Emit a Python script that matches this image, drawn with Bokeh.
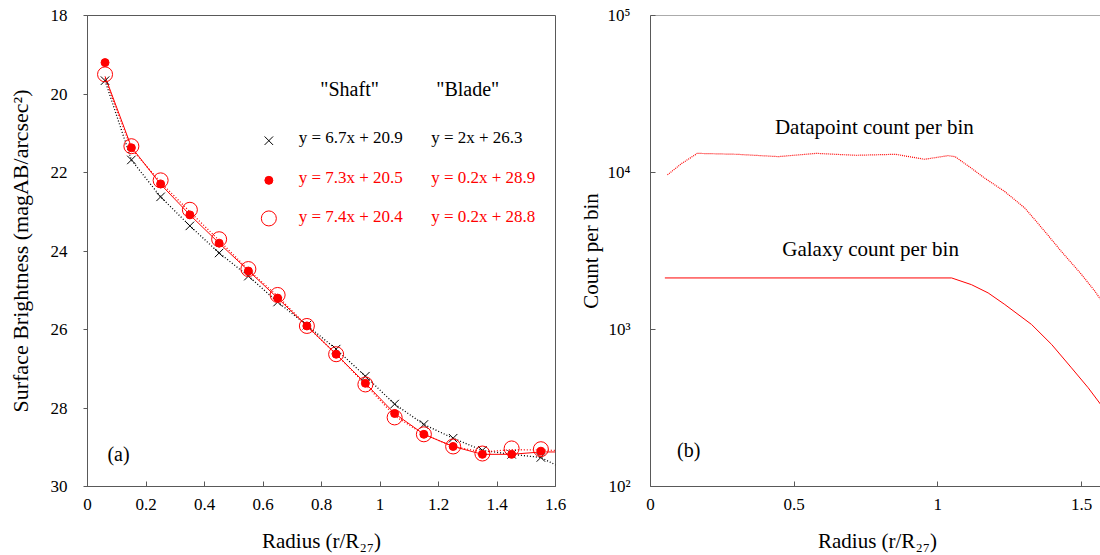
from bokeh.plotting import figure
from bokeh.models import Range1d, FixedTicker, NumeralTickFormatter, Label, Span
from bokeh.layouts import row
from bokeh.embed import file_html
from bokeh.resources import INLINE

FONT = "Liberation Serif"
RED = "#ff0000"
AXC = "#595959"

# ---------------- data: panel (a) ----------------
radius = [0.06, 0.15, 0.25, 0.35, 0.45, 0.55, 0.65, 0.75, 0.85, 0.95, 1.05, 1.15, 1.25, 1.35, 1.45, 1.55]
sb_cross = [19.66, 21.68, 22.62, 23.36, 24.05, 24.64, 25.30, 25.89, 26.50, 27.19, 27.90, 28.42, 28.77, 29.08, 29.18, 29.26]
sb_dot = [19.20, 21.37, 22.29, 23.08, 23.80, 24.51, 25.20, 25.91, 26.63, 27.37, 28.14, 28.67, 28.98, 29.18, 29.18, 29.10]
sb_circle = [19.50, 21.33, 22.20, 22.95, 23.70, 24.46, 25.12, 25.91, 26.63, 27.40, 28.24, 28.67, 28.98, 29.16, 29.03, 29.05]

line_r = [0.06, 0.15, 0.25, 0.35, 0.45, 0.55, 0.65, 0.75, 0.85, 0.95, 1.05, 1.15, 1.25, 1.35, 1.45, 1.55, 1.6]
line_black = [19.66, 21.68, 22.62, 23.36, 24.05, 24.64, 25.30, 25.89, 26.50, 27.19, 27.90, 28.42, 28.77, 29.08, 29.18, 29.26, 29.45]
line_red_solid = [19.55, 21.35, 22.30, 23.08, 23.80, 24.50, 25.20, 25.91, 26.63, 27.37, 28.14, 28.67, 28.98, 29.18, 29.18, 29.12, 29.12]
line_red_dotted = [19.60, 21.40, 22.25, 23.00, 23.73, 24.48, 25.15, 25.91, 26.63, 27.40, 28.20, 28.67, 28.98, 29.12, 29.06, 29.07, 29.08]

x_ticks_a = [0, 0.2, 0.4, 0.6, 0.8, 1, 1.2, 1.4, 1.6]
y_ticks_a = [18, 20, 22, 24, 26, 28, 30]

headers = ['"Shaft"', '"Blade"']
shaft_eqs = ["y = 6.7x + 20.9", "y = 7.3x + 20.5", "y = 7.4x + 20.4"]
blade_eqs = ["y = 2x + 26.3", "y = 0.2x + 28.9", "y = 0.2x + 28.8"]
eq_colors = ["black", RED, RED]

# ---------------- data: panel (b) ----------------
dp_r = [0.059, 0.108, 0.163, 0.30, 0.445, 0.577, 0.715, 0.852, 0.954, 1.035, 1.06, 1.117, 1.164, 1.233, 1.303, 1.372, 1.43, 1.50, 1.547, 1.579]
dp_count = [9660, 11400, 13240, 13060, 12620, 13240, 12870, 13060, 12140, 12800, 12620, 10640, 9180, 7560, 5930, 4220, 3140, 2240, 1750, 1440]

gal_r = [0.05, 1.048, 1.117, 1.175, 1.233, 1.326, 1.396, 1.465, 1.523, 1.579]
gal_count = [2130, 2130, 1930, 1710, 1443, 1077, 803, 570, 426, 311]

x_ticks_b = [0, 0.5, 1, 1.5]
y_ticks_b = [100, 1000, 10000, 100000]
y_labels_b = ["10²", "10³", "10⁴", "10⁵"]


def style_axes(p):
    for ax in p.axis:
        ax.axis_line_color = AXC
        ax.axis_line_width = 1
        ax.major_tick_line_color = AXC
        ax.minor_tick_line_color = None
        ax.major_label_text_font = FONT
        ax.major_label_text_font_size = "17px"
        ax.major_label_text_color = "black"
        ax.axis_label_text_font = FONT
        ax.axis_label_text_font_size = "21px"
        ax.axis_label_text_font_style = "normal"
        ax.axis_label_text_color = "black"
    p.grid.visible = False


# ---------------- panel (a) ----------------
p1 = figure(frame_width=468, frame_height=471, min_border_left=87, min_border_right=20,
            min_border_top=15, min_border_bottom=69,
            x_range=Range1d(0, 1.6), y_range=Range1d(30, 18),
            output_backend="svg", toolbar_location=None)
style_axes(p1)
p1.outline_line_color = AXC
p1.outline_line_width = 1
p1.xaxis.ticker = FixedTicker(ticks=x_ticks_a)
p1.xaxis.formatter = NumeralTickFormatter(format="0.[0]")
p1.yaxis.ticker = FixedTicker(ticks=y_ticks_a)
p1.yaxis.formatter = NumeralTickFormatter(format="0")
p1.xaxis.major_tick_in = 5
p1.xaxis.major_tick_out = 0
p1.yaxis.major_tick_in = 0
p1.yaxis.major_tick_out = 4
p1.xaxis.major_label_standoff = 12
p1.yaxis.major_label_standoff = 16
p1.xaxis.axis_label = "Radius (r/R₂₇)"
p1.yaxis.axis_label = "Surface Brightness (magAB/arcsec²)"
p1.yaxis.axis_label_text_font_size = "22px"
p1.xaxis.axis_label_standoff = 16
p1.yaxis.axis_label_standoff = 15

p1.line(line_r, line_black, line_color="black", line_width=1.3, line_dash="1 2")
p1.line(line_r, line_red_solid, line_color=RED, line_width=1)
p1.line(line_r, line_red_dotted, line_color=RED, line_width=1.3, line_dash="1 2")
p1.scatter(radius, sb_cross, marker="x", size=12, line_color="black", line_width=1)
p1.scatter(radius, sb_dot, marker="circle", size=8, fill_color=RED, line_color=RED)
p1.scatter(radius, sb_circle, marker="circle", size=15, fill_color=None, line_color=RED, line_width=1)

# legend-like table
hdr_x = [0.896, 1.30]
for hx, t in zip(hdr_x, headers):
    p1.add_layout(Label(x=hx, y=19.86, text=t, text_font=FONT, text_font_size="20px",
                        text_align="center", text_baseline="middle", text_color="black"))
row_y = [21.12, 22.12, 23.12]
for ry, s, b, c in zip(row_y, shaft_eqs, blade_eqs, eq_colors):
    p1.add_layout(Label(x=0.722, y=ry, text=s, text_font=FONT, text_font_size="17px",
                        text_align="left", text_baseline="middle", text_color=c))
    p1.add_layout(Label(x=1.175, y=ry, text=b, text_font=FONT, text_font_size="17px",
                        text_align="left", text_baseline="middle", text_color=c))
leg_x = 0.62
p1.scatter([leg_x], [row_y[0] + 0.07], marker="x", size=12, line_color="black", line_width=1)
p1.scatter([leg_x], [row_y[1] + 0.08], marker="circle", size=8, fill_color=RED, line_color=RED)
p1.scatter([leg_x], [row_y[2] + 0.05], marker="circle", size=15, fill_color=None, line_color=RED, line_width=1)

p1.add_layout(Label(x=0.106, y=29.16, text="(a)", text_font=FONT, text_font_size="20px",
                    text_align="center", text_baseline="middle", text_color="black"))

# ---------------- panel (b) ----------------
p2 = figure(frame_width=454, frame_height=471, min_border_left=71, min_border_right=0,
            min_border_top=15, min_border_bottom=69,
            x_range=Range1d(0, 1.58), y_range=Range1d(100, 100000), y_axis_type="log",
            output_backend="svg", toolbar_location=None)
style_axes(p2)
p2.outline_line_color = None
p2.add_layout(Span(location=100000, dimension="width", line_color=AXC, line_width=1))
p2.xaxis.ticker = FixedTicker(ticks=x_ticks_b)
p2.xaxis.formatter = NumeralTickFormatter(format="0.[0]")
p2.yaxis.ticker = FixedTicker(ticks=y_ticks_b)
p2.yaxis.major_label_overrides = {t: l for t, l in zip(y_ticks_b, y_labels_b)}
p2.xaxis.major_tick_in = 5
p2.xaxis.major_tick_out = 0
p2.yaxis.major_tick_in = 5
p2.yaxis.major_tick_out = 0
p2.xaxis.major_label_standoff = 12
p2.yaxis.major_label_standoff = 20
p2.xaxis.axis_label = "Radius (r/R₂₇)"
p2.yaxis.axis_label = "Count per bin"
p2.xaxis.axis_label_standoff = 16
p2.yaxis.axis_label_standoff = 2

p2.line(dp_r, dp_count, line_color=RED, line_width=1.2, line_dash="1 1")
p2.line(gal_r, gal_count, line_color=RED, line_width=1)

p2.add_layout(Label(x=0.779, y=19600, text="Datapoint count per bin", text_font=FONT,
                    text_font_size="21px", text_align="center", text_baseline="middle", text_color="black"))
p2.add_layout(Label(x=0.766, y=3240, text="Galaxy count per bin", text_font=FONT,
                    text_font_size="21px", text_align="center", text_baseline="middle", text_color="black"))
p2.add_layout(Label(x=0.133, y=171, text="(b)", text_font=FONT, text_font_size="20px",
                    text_align="center", text_baseline="middle", text_color="black"))

layout = row(p1, p2)
open("out.html", "w").write(file_html(layout, INLINE))
